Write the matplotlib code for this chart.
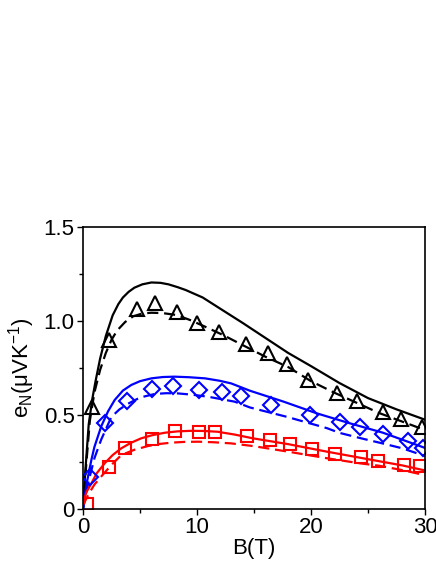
import matplotlib
matplotlib.use('Agg')
import matplotlib.pyplot as plt
from matplotlib.ticker import MultipleLocator, FuncFormatter

plt.rcParams['font.family'] = ['Liberation Sans', 'DejaVu Sans']
plt.rcParams['mathtext.fontset'] = 'custom'
plt.rcParams['mathtext.rm'] = 'Liberation Sans'

# measured points
tri_B = [0.76, 2.28, 4.77, 6.32, 8.27, 10.0, 11.96, 14.27, 16.26, 17.9, 19.76, 22.25, 24.0, 26.3, 27.9, 29.76]
tri_e = [0.541, 0.899, 1.062, 1.094, 1.046, 0.991, 0.94, 0.878, 0.828, 0.771, 0.686, 0.619, 0.576, 0.518, 0.477, 0.435]

dia_B = [0.58, 1.96, 3.89, 6.05, 7.9, 10.2, 12.2, 13.9, 16.5, 19.9, 22.5, 24.3, 26.3, 28.5, 29.8]
dia_e = [0.172, 0.456, 0.576, 0.637, 0.654, 0.633, 0.624, 0.601, 0.553, 0.5, 0.464, 0.435, 0.4, 0.363, 0.325]

sq_B = [0.38, 2.25, 3.71, 6.05, 8.04, 10.2, 11.6, 14.4, 16.4, 18.2, 20.1, 22.1, 24.4, 25.9, 28.2, 29.6]
sq_e = [0.027, 0.222, 0.323, 0.372, 0.416, 0.411, 0.411, 0.388, 0.367, 0.344, 0.317, 0.29, 0.277, 0.257, 0.236, 0.23]

# calculated curves
blk_solid_B = [0, 0.2, 0.5, 0.8, 1.1, 1.5, 2.0, 2.6, 3.1, 3.5, 4.0, 4.5, 5.2, 6.0, 6.8, 7.5, 8.3, 9.0, 10.5, 12, 14, 16, 18, 20, 22.5, 25, 27.5, 30]
blk_solid_e = [0.0, 0.2, 0.45, 0.58, 0.68, 0.8, 0.92, 1.03, 1.09, 1.125, 1.155, 1.177, 1.195, 1.205, 1.203, 1.195, 1.18, 1.165, 1.125, 1.067, 0.99, 0.91, 0.83, 0.76, 0.67, 0.59, 0.53, 0.475]

blk_dash_B = [0, 0.3, 0.6, 1.0, 1.5, 2.0, 2.5, 3.0, 3.7, 4.4, 5.2, 6.0, 7.0, 8.2, 9.4, 10.7, 12.3, 14.0, 16, 18, 20, 22, 24, 26, 28, 30]
blk_dash_e = [0.0, 0.25, 0.47, 0.62, 0.74, 0.83, 0.9, 0.95, 0.995, 1.025, 1.04, 1.044, 1.042, 1.032, 1.005, 0.97, 0.925, 0.872, 0.81, 0.755, 0.68, 0.62, 0.565, 0.51, 0.465, 0.42]

blu_solid_B = [0, 0.3, 0.73, 1.0, 1.6, 2.2, 2.78, 3.5, 4.24, 5.0, 6.0, 7.0, 8.0, 9.3, 10.7, 12.0, 13.0, 14.65, 17.6, 20.5, 23.4, 26.3, 30]
blu_solid_e = [0.0, 0.13, 0.26, 0.33, 0.44, 0.52, 0.58, 0.63, 0.66, 0.68, 0.695, 0.702, 0.704, 0.701, 0.695, 0.682, 0.668, 0.629, 0.571, 0.509, 0.456, 0.406, 0.325]

blu_dash_B = [0, 0.5, 1.0, 1.6, 2.49, 3.2, 3.95, 5.0, 6.3, 7.3, 8.3, 9.6, 11.0, 13.3, 14.65, 17.9, 21.4, 22.5, 24.4, 26.2, 28, 30]
blu_dash_e = [0.0, 0.15, 0.27, 0.37, 0.49, 0.53, 0.56, 0.593, 0.612, 0.616, 0.615, 0.608, 0.597, 0.571, 0.54, 0.49, 0.43, 0.405, 0.376, 0.35, 0.323, 0.282]

red_solid_B = [0, 0.3, 0.73, 1.2, 1.9, 2.6, 3.36, 4.2, 5.1, 6.1, 7.2, 8.3, 9.5, 10.6, 11.8, 13.3, 14.9, 18, 21.4, 25, 28, 30]
red_solid_e = [0.03, 0.09, 0.136, 0.19, 0.243, 0.287, 0.323, 0.352, 0.376, 0.393, 0.406, 0.413, 0.416, 0.415, 0.411, 0.396, 0.376, 0.345, 0.305, 0.265, 0.232, 0.205]

red_dash_B = [0, 0.5, 1.0, 1.7, 2.5, 3.36, 4.5, 5.7, 6.7, 7.75, 8.9, 10.1, 11.5, 13.0, 14.9, 18, 21.4, 24.3, 26, 28, 30]
red_dash_e = [0.02, 0.08, 0.13, 0.18, 0.235, 0.287, 0.315, 0.335, 0.346, 0.353, 0.357, 0.358, 0.355, 0.349, 0.335, 0.305, 0.27, 0.243, 0.23, 0.207, 0.18]

fig = plt.figure(figsize=(4.36, 5.64), dpi=100)
ax = fig.add_axes([0.1904, 0.0975, 0.7844, 0.5])

dash = (0, (5, 2.6))
lw = 1.6
ax.plot(blk_solid_B, blk_solid_e, color='black', lw=lw)
ax.plot(blk_dash_B, blk_dash_e, color='black', lw=lw, ls=dash)
ax.plot(blu_solid_B, blu_solid_e, color='#0000ff', lw=lw)
ax.plot(blu_dash_B, blu_dash_e, color='#0000ff', lw=lw, ls=dash)
ax.plot(red_solid_B, red_solid_e, color='#ff0000', lw=lw)
ax.plot(red_dash_B, red_dash_e, color='#ff0000', lw=lw, ls=dash)

ax.plot(tri_B, tri_e, ls='none', marker='^', ms=10.5, mfc='none', mec='black', mew=1.5)
ax.plot(dia_B, dia_e, ls='none', marker='D', ms=8.3, mfc='none', mec='#0000ff', mew=1.5)
ax.plot(sq_B, sq_e, ls='none', marker='s', ms=8.3, mfc='none', mec='#ff0000', mew=1.5)

ax.set_xlim(0, 30)
ax.set_ylim(0, 1.5)
ax.xaxis.set_major_locator(MultipleLocator(10))
ax.xaxis.set_minor_locator(MultipleLocator(5))
ax.yaxis.set_major_locator(MultipleLocator(0.5))
ax.yaxis.set_minor_locator(MultipleLocator(0.25))
ax.yaxis.set_major_formatter(FuncFormatter(lambda v, p: '0' if v == 0 else f'{v:.1f}'))

for s in ax.spines.values():
    s.set_linewidth(1.2)
ax.tick_params(which='both', direction='out', labelsize=16, width=1.0)
ax.tick_params(which='major', length=4, pad=2)
ax.tick_params(which='minor', length=3)

ax.set_xlabel('B(T)', fontsize=16, labelpad=0)
ax.set_ylabel(r'e$_\mathregular{N}$($\mathregular{\mu}$VK$^\mathregular{-1}$)', fontsize=16, labelpad=5)

fig.savefig('out.png', dpi=100)
